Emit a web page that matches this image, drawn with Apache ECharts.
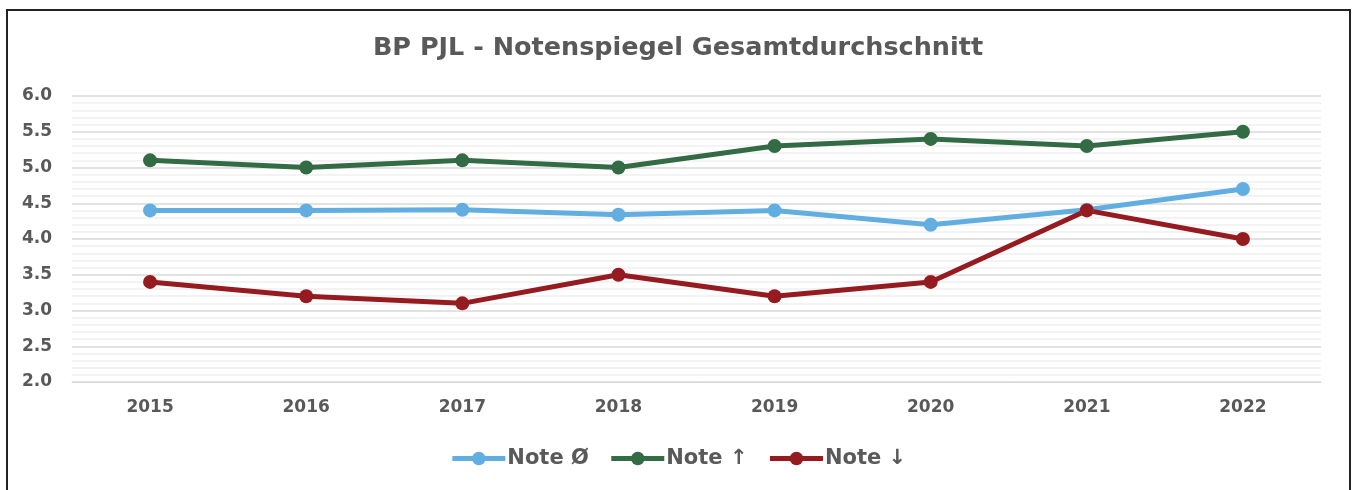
<!DOCTYPE html>
<html lang="de">
<head>
<meta charset="UTF-8">
<title>Notenspiegel</title>
<script src="https://cdn.jsdelivr.net/npm/echarts@6/dist/echarts.min.js"></script>
<style>
html,body{margin:0;padding:0;background:#fff}
#chartBox{width:1356px;height:490px}
</style>
</head>
<body>
<div id="chartBox"></div>
<script>
// Daten
const years = ['2015', '2016', '2017', '2018', '2019', '2020', '2021', '2022'];
const noteAvg = [4.40, 4.40, 4.41, 4.34, 4.40, 4.20, 4.41, 4.70];
const noteUp = [5.1, 5.0, 5.1, 5.0, 5.3, 5.4, 5.3, 5.5];
const noteDown = [3.4, 3.2, 3.1, 3.5, 3.2, 3.4, 4.4, 4.0];

const txtColor = '#595959';
const fontFam = '"DejaVu Sans", sans-serif';

function lineSeries(name, data, color){
    return {
        type: 'line',
        name: name,
        data: data,
        symbol: 'circle',
        symbolSize: 14,
        lineStyle: {width: 5, color: color},
        itemStyle: {color: color},
        emphasis: {disabled: true},
        animation: false
    };
}

let chartObj = echarts.init(document.getElementById('chartBox'));
chartObj.setOption({
    animation: false,
    textStyle: {fontFamily: fontFam},
    title: {
        left: 'center',
        top: 30,
        text: 'BP PJL - Notenspiegel Gesamtdurchschnitt',
        textStyle: {color: txtColor, fontSize: 25.5, fontWeight: 'bold', fontFamily: fontFam}
    },
    graphic: [{
        type: 'rect',
        shape: {x: 7, y: 10, width: 1343, height: 500},
        style: {fill: 'none', stroke: '#222', lineWidth: 2}
    }],
    grid: {left: 72, right: 35, top: 96, bottom: 108},
    xAxis: {
        type: 'category',
        data: years,
        axisLine: {show: true, lineStyle: {color: '#d9d9d9', width: 1}},
        axisTick: {show: false},
        axisLabel: {color: txtColor, fontSize: 17, fontWeight: 'bold', margin: 17, fontFamily: fontFam}
    },
    yAxis: {
        type: 'value',
        min: 2,
        max: 6,
        interval: 0.5,
        axisLine: {show: false},
        axisTick: {show: false},
        axisLabel: {
            color: txtColor, fontSize: 17, fontWeight: 'bold', margin: 20, fontFamily: fontFam,
            formatter: v => v.toFixed(1)
        },
        splitLine: {lineStyle: {color: '#d9d9d9', width: 1.5}},
        minorTick: {show: false, splitNumber: 5},
        minorSplitLine: {show: true, lineStyle: {color: '#efefef', width: 1.5}}
    },
    legend: {
        top: 443,
        left: 'center',
        itemWidth: 53,
        itemHeight: 17,
        itemGap: 20,
        lineStyle: {width: 5},
        textStyle: {color: txtColor, fontSize: 21, fontWeight: 'bold', fontFamily: fontFam, padding: [0, 0, 0, -3]},
        data: ['Note Ø', 'Note ↑', 'Note ↓']
    },
    series: [
        lineSeries('Note Ø', noteAvg, '#62aee0'),
        lineSeries('Note ↑', noteUp, '#336b44'),
        lineSeries('Note ↓', noteDown, '#951b20')
    ]
});
</script>
</body>
</html>
